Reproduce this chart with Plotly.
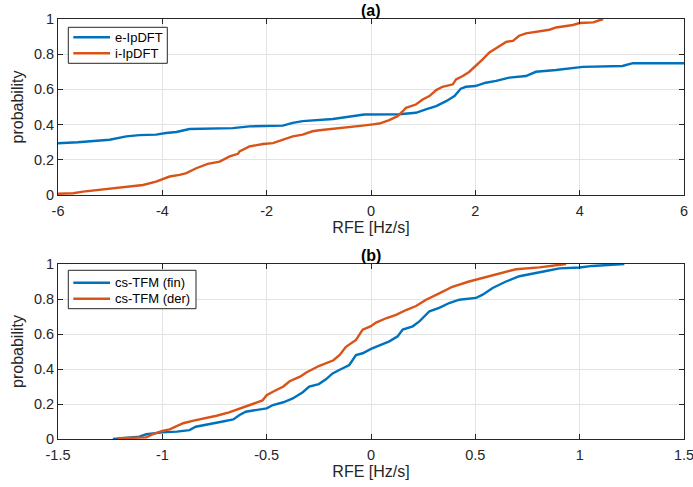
import plotly.graph_objects as go

# Panel (a)
a_e_x = [-6.5, -5.62, -5.01, -4.69, -4.44, -4.12, -3.93, -3.73, -3.48, -2.65, -2.33, -1.69, -1.5, -1.31,
         -0.73, -0.42, -0.13, 0.54, 0.86, 1.05, 1.25, 1.44, 1.6, 1.72, 1.82, 2.0, 2.2, 2.4, 2.65, 2.97,
         3.16, 3.55, 4.06, 4.82, 5.02, 6.5]
a_e_y = [0.286, 0.30, 0.314, 0.333, 0.34, 0.343, 0.352, 0.358, 0.375, 0.38, 0.39, 0.394, 0.41, 0.42,
         0.432, 0.444, 0.457, 0.459, 0.467, 0.486, 0.505, 0.533, 0.562, 0.604, 0.615, 0.619, 0.638,
         0.648, 0.667, 0.676, 0.70, 0.71, 0.728, 0.733, 0.749, 0.749]
a_i_x = [-6.3, -5.71, -5.52, -5.2, -5.01, -4.63, -4.37, -4.12, -3.99, -3.86, -3.67, -3.54, -3.35, -3.13,
         -2.9, -2.71, -2.55, -2.52, -2.33, -2.07, -1.88, -1.69, -1.5, -1.31, -1.12, -0.99, -0.73, -0.42,
         -0.16, 0.0, 0.16, 0.35, 0.51, 0.61, 0.67, 0.86, 0.99, 1.12, 1.25, 1.37, 1.57, 1.63, 1.76, 1.88,
         2.01, 2.14, 2.27, 2.46, 2.59, 2.72, 2.84, 2.97, 3.16, 3.42, 3.55, 3.87, 4.0, 4.26, 4.45]
a_i_y = [0.004, 0.01, 0.019, 0.029, 0.038, 0.048, 0.057, 0.076, 0.091, 0.105, 0.114, 0.124, 0.152, 0.177,
         0.19, 0.219, 0.234, 0.248, 0.276, 0.29, 0.295, 0.314, 0.333, 0.343, 0.362, 0.368, 0.375, 0.385,
         0.394, 0.40, 0.406, 0.425, 0.448, 0.476, 0.495, 0.514, 0.543, 0.562, 0.596, 0.615, 0.629, 0.657,
         0.676, 0.699, 0.733, 0.771, 0.81, 0.848, 0.87, 0.876, 0.905, 0.918, 0.928, 0.939, 0.952, 0.966,
         0.977, 0.981, 1.0]

# Panel (b)
b_fin_x = [-1.237, -1.11, -1.077, -1.03, -1.0, -0.93, -0.87, -0.84, -0.77, -0.71, -0.66, -0.63, -0.6,
           -0.55, -0.5, -0.47, -0.42, -0.375, -0.327, -0.296, -0.25, -0.216, -0.184, -0.152, -0.104,
           -0.072, -0.04, 0.0, 0.04, 0.088, 0.128, 0.152, 0.2, 0.232, 0.28, 0.327, 0.375, 0.423, 0.503,
           0.535, 0.583, 0.647, 0.711, 0.775, 0.839, 0.903, 1.0, 1.06, 1.126, 1.214]
b_fin_y = [0.0, 0.013, 0.027, 0.036, 0.038, 0.042, 0.051, 0.07, 0.084, 0.1, 0.112, 0.137, 0.156,
           0.166, 0.175, 0.194, 0.21, 0.232, 0.267, 0.299, 0.314, 0.341, 0.375, 0.394, 0.423,
           0.48, 0.49, 0.515, 0.533, 0.558, 0.587, 0.625, 0.644, 0.672, 0.73, 0.749, 0.777, 0.796, 0.806,
           0.825, 0.863, 0.9, 0.93, 0.947, 0.96, 0.975, 0.98, 0.989, 0.994, 1.0]
b_der_x = [-1.213, -1.077, -1.045, -1.0, -0.965, -0.9, -0.85, -0.79, -0.74, -0.68, -0.63, -0.567, -0.52,
           -0.5, -0.47, -0.42, -0.39, -0.34, -0.31, -0.25, -0.18, -0.15, -0.12, -0.072, -0.04, 0.0,
           0.024, 0.072, 0.12, 0.168, 0.216, 0.264, 0.327, 0.39, 0.47, 0.567, 0.63, 0.695, 0.807, 0.87,
           0.935]
b_der_y = [0.005, 0.009, 0.028, 0.046, 0.055, 0.09, 0.105, 0.12, 0.133, 0.152, 0.175, 0.2, 0.22,
           0.25, 0.27, 0.3, 0.33, 0.356, 0.38, 0.417, 0.45, 0.48, 0.527, 0.566, 0.625, 0.645,
           0.665, 0.69, 0.709, 0.737, 0.76, 0.796, 0.832, 0.87, 0.9, 0.929, 0.952, 0.97, 0.981, 0.99,
           1.0]

a_names = ["e-IpDFT", "i-IpDFT"]
b_names = ["cs-TFM (fin)", "cs-TFM (der)"]
a_ticks_x = [-6, -4, -2, 0, 2, 4, 6]
a_ticks_txt = ["-6", "-4", "-2", "0", "2", "4", "6"]
b_ticks_x = [-1.5, -1, -0.5, 0, 0.5, 1, 1.5]
b_ticks_txt = ["-1.5", "-1", "-0.5", "0", "0.5", "1", "1.5"]
y_ticks = [0, 0.2, 0.4, 0.6, 0.8, 1]
y_ticks_txt = ["0", "0.2", "0.4", "0.6", "0.8", "1"]

BLUE = "#0072BD"
ORANGE = "#D95319"
COLORS = [BLUE, ORANGE]
FONT = "Liberation Sans, Arial, sans-serif"
LW = 2.4

W, H = 693, 487
ML, MR, MT, MB = 58, 9, 19, 48
PW, PH = W - ML - MR, H - MT - MB


def px(x):
    return (x - ML) / PW


def py(y):
    return (H - MB - y) / PH


fig = go.Figure()
fig.add_trace(go.Scatter(x=a_e_x, y=a_e_y, mode="lines", line=dict(color=BLUE, width=LW),
                         name=a_names[0], xaxis="x", yaxis="y"))
fig.add_trace(go.Scatter(x=a_i_x, y=a_i_y, mode="lines", line=dict(color=ORANGE, width=LW),
                         name=a_names[1], xaxis="x", yaxis="y"))
fig.add_trace(go.Scatter(x=b_fin_x, y=b_fin_y, mode="lines", line=dict(color=BLUE, width=LW),
                         name=b_names[0], xaxis="x2", yaxis="y2"))
fig.add_trace(go.Scatter(x=b_der_x, y=b_der_y, mode="lines", line=dict(color=ORANGE, width=LW),
                         name=b_names[1], xaxis="x2", yaxis="y2"))

axis_common = dict(showline=True, linecolor="#262626", linewidth=1, mirror="ticks", ticks="inside",
                   ticklen=5, tickcolor="#262626", showgrid=True, gridcolor="#e3e3e3", gridwidth=1,
                   zeroline=False, tickfont=dict(family=FONT, size=14.5, color="#262626"),
                   ticklabeloverflow="allow")
xt = dict(text="RFE [Hz/s]", font=dict(family=FONT, size=16, color="#262626"), standoff=2)
yt = dict(text="probability", font=dict(family=FONT, size=16, color="#262626"), standoff=6)

# manual legends (box, line samples, labels) placed in pixel positions
shapes = []
annotations = []
legend_specs = [
    (a_names, (68.3, 167.3, 27.3, 63.3), [37.3, 53.3]),
    (b_names, (68.3, 196.0, 270.3, 308.7), [282.7, 298.7]),
]
for names, (x0, x1, y0, y1), rows in legend_specs:
    shapes.append(dict(type="rect", xref="paper", yref="paper", x0=px(x0), x1=px(x1), y0=py(y1), y1=py(y0),
                       line=dict(color="#262626", width=1), fillcolor="white", layer="above"))
    for name, col, ry in zip(names, COLORS, rows):
        shapes.append(dict(type="line", xref="paper", yref="paper", x0=px(73.3), x1=px(110), y0=py(ry),
                           y1=py(ry), line=dict(color=col, width=LW), layer="above"))
        annotations.append(dict(text=name, xref="paper", yref="paper", x=px(113), y=py(ry), xanchor="left",
                                yanchor="middle", showarrow=False,
                                font=dict(family=FONT, size=13, color="black")))

annotations += [
    dict(text="<b>(a)</b>", x=0.5, y=1, xref="paper", yref="paper", xanchor="center", yanchor="bottom",
         showarrow=False, font=dict(family=FONT, size=16, color="black"), yshift=-2),
    dict(text="<b>(b)</b>", x=0.5, y=py(264), xref="paper", yref="paper", xanchor="center",
         yanchor="bottom", showarrow=False, font=dict(family=FONT, size=16, color="black"), yshift=-2),
]

fig.update_layout(
    width=W, height=H,
    paper_bgcolor="white", plot_bgcolor="white",
    margin=dict(l=ML, r=MR, t=MT, b=MB, autoexpand=False),
    font=dict(family=FONT, color="#262626"),
    showlegend=False,
    xaxis=dict(axis_common, domain=[0, 1], range=[-6, 6], tickvals=a_ticks_x, ticktext=a_ticks_txt,
               anchor="y", ticklabelstandoff=3, title=xt),
    yaxis=dict(axis_common, domain=[py(195), 1], range=[0, 1], tickvals=y_ticks, ticktext=y_ticks_txt,
               anchor="x", title=yt),
    xaxis2=dict(axis_common, domain=[0, 1], range=[-1.5, 1.5], tickvals=b_ticks_x, ticktext=b_ticks_txt,
                anchor="y2", ticklabelstandoff=3, title=xt),
    yaxis2=dict(axis_common, domain=[0, py(264)], range=[0, 1], tickvals=y_ticks, ticktext=y_ticks_txt,
                anchor="x2", title=yt),
    shapes=shapes,
    annotations=annotations,
)

fig.write_html("out.html", post_script="document.body.style.margin='0';",
               config={"displayModeBar": False})
